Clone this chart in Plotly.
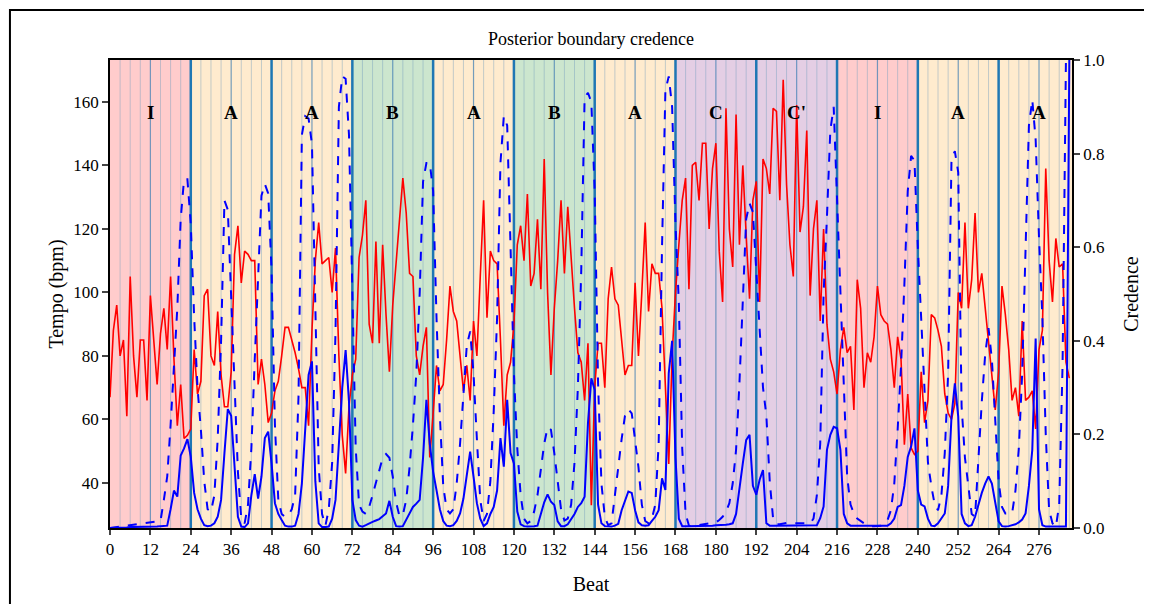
import plotly.graph_objects as go

# ---------------- data ----------------
beats = list(range(286))

tempo = [67, 88, 96, 80, 85, 61, 105, 80, 67, 85, 85, 66, 99, 85, 71, 87, 95, 82, 105, 79,
         58, 71, 54, 55, 57, 82, 68, 72, 99, 101, 80, 77, 94, 74, 64, 64, 75, 112, 121, 103,
         113, 112, 110, 110, 71, 79, 71, 59, 62, 69, 72, 80, 89, 89, 85, 81, 76, 70, 70, 58,
         88, 110, 122, 109, 110, 111, 100, 114, 80, 55, 43, 64, 74, 79, 111, 118, 129, 90, 84, 116,
         84, 115, 93, 75, 96, 110, 125, 136, 125, 106, 105, 80, 74, 83, 89, 48, 62, 77, 69, 71,
         85, 102, 94, 91, 80, 69, 77, 66, 91, 80, 105, 129, 92, 113, 110, 109, 85, 58, 74, 78,
         90, 115, 121, 110, 131, 102, 106, 123, 101, 142, 100, 74, 95, 110, 129, 106, 127, 110, 95, 81,
         78, 66, 84, 33, 70, 84, 84, 70, 98, 108, 98, 96, 85, 74, 77, 77, 103, 80, 100, 122,
         94, 109, 106, 106, 95, 71, 46, 80, 100, 115, 129, 136, 101, 140, 141, 129, 147, 147, 120, 139,
         147, 113, 97, 158, 120, 108, 156, 115, 140, 118, 98, 129, 135, 97, 142, 139, 131, 158, 157, 129,
         167, 134, 115, 105, 159, 119, 127, 151, 99, 120, 129, 91, 120, 90, 79, 75, 68, 82, 89, 81,
         83, 63, 104, 95, 70, 81, 78, 86, 102, 93, 91, 90, 82, 70, 86, 79, 52, 68, 51, 49,
         50, 75, 59, 66, 93, 92, 88, 83, 68, 62, 60, 65, 100, 95, 122, 95, 104, 125, 100, 106,
         95, 85, 74, 63, 75, 102, 93, 82, 66, 70, 61, 91, 66, 67, 69, 57, 82, 88, 139, 110,
         97, 117, 108, 109, 78, 73]

credence_dashed = [0.0, 0.001, 0.002, 0.003, 0.004, 0.005, 0.006, 0.007, 0.008, 0.009,
                   0.01, 0.011, 0.012, 0.012, 0.013, 0.015, 0.06, 0.11, 0.22, 0.36,
                   0.47, 0.66, 0.745, 0.745, 0.65, 0.45, 0.30, 0.21, 0.10, 0.04,
                   0.035, 0.07, 0.19, 0.40, 0.70, 0.68, 0.50, 0.29, 0.12, 0.02,
                   0.01, 0.05, 0.17, 0.36, 0.54, 0.71, 0.735, 0.715, 0.55, 0.22,
                   0.06, 0.03, 0.024, 0.027, 0.04, 0.07, 0.28, 0.84, 0.88, 0.875,
                   0.82, 0.44, 0.13, 0.03, 0.005, 0.04, 0.14, 0.42, 0.90, 0.965,
                   0.96, 0.84, 0.52, 0.17, 0.05, 0.035, 0.03, 0.045, 0.07, 0.095,
                   0.125, 0.15, 0.158, 0.15, 0.11, 0.055, 0.025, 0.028, 0.06, 0.13,
                   0.22, 0.33, 0.50, 0.74, 0.78, 0.78, 0.72, 0.45, 0.24, 0.09,
                   0.04, 0.031, 0.04, 0.095, 0.18, 0.29, 0.39, 0.42, 0.33, 0.19,
                   0.06, 0.015, 0.03, 0.10, 0.25, 0.45, 0.78, 0.88, 0.86, 0.60,
                   0.33, 0.17, 0.07, 0.02, 0.01, 0.015, 0.035, 0.07, 0.13, 0.18,
                   0.215, 0.21, 0.16, 0.10, 0.04, 0.016, 0.02, 0.05, 0.14, 0.30,
                   0.55, 0.92, 0.93, 0.91, 0.72, 0.31, 0.095, 0.024, 0.006, 0.01,
                   0.07, 0.14, 0.19, 0.24, 0.254, 0.245, 0.19, 0.13, 0.05, 0.015,
                   0.01, 0.02, 0.05, 0.18, 0.60, 0.935, 0.965, 0.90, 0.65, 0.48,
                   0.17, 0.03, 0.005, 0.004, 0.005, 0.006, 0.007, 0.008, 0.009, 0.01,
                   0.012, 0.017, 0.024, 0.035, 0.053, 0.095, 0.167, 0.31, 0.49, 0.66,
                   0.694, 0.675, 0.55, 0.43, 0.30, 0.24, 0.10, 0.02, 0.008, 0.008,
                   0.01, 0.011, 0.011, 0.01, 0.01, 0.01, 0.01, 0.01, 0.01, 0.02,
                   0.07, 0.18, 0.50, 0.665, 0.85, 0.90, 0.70, 0.47, 0.30, 0.11,
                   0.05, 0.031, 0.02, 0.014, 0.01, 0.006, 0.004, 0.004, 0.004, 0.005,
                   0.01, 0.017, 0.038, 0.095, 0.21, 0.345, 0.52, 0.72, 0.795, 0.785,
                   0.60, 0.45, 0.27, 0.14, 0.09, 0.05, 0.038, 0.07, 0.16, 0.33,
                   0.79, 0.805, 0.76, 0.26, 0.15, 0.085, 0.03, 0.024, 0.15, 0.27,
                   0.37, 0.427, 0.36, 0.23, 0.10, 0.045, 0.031, 0.031, 0.031, 0.08,
                   0.17, 0.33, 0.60, 0.86, 0.915, 0.83, 0.62, 0.45, 0.20, 0.038,
                   0.01, 0.002, 0.05, 0.35, 1.0, 1.0]

credence_solid = [0.0, 0.0, 0.001, 0.001, 0.001, 0.001, 0.002, 0.002, 0.002, 0.002,
                  0.002, 0.003, 0.003, 0.003, 0.003, 0.004, 0.004, 0.005, 0.04, 0.08,
                  0.067, 0.155, 0.17, 0.19, 0.152, 0.075, 0.04, 0.02, 0.006, 0.004,
                  0.005, 0.01, 0.024, 0.06, 0.16, 0.254, 0.24, 0.13, 0.024, 0.003,
                  0.002, 0.01, 0.07, 0.115, 0.063, 0.11, 0.192, 0.206, 0.138, 0.053,
                  0.03, 0.017, 0.005, 0.003, 0.003, 0.005, 0.03, 0.095, 0.216, 0.327,
                  0.356, 0.10, 0.01, 0.002, 0.002, 0.003, 0.02, 0.06, 0.18, 0.30,
                  0.38, 0.27, 0.06, 0.017, 0.005, 0.003, 0.006, 0.01, 0.013, 0.016,
                  0.019, 0.025, 0.031, 0.058, 0.024, 0.004, 0.003, 0.004, 0.017, 0.03,
                  0.045, 0.052, 0.06, 0.15, 0.274, 0.18, 0.12, 0.081, 0.04, 0.015,
                  0.005, 0.004, 0.006, 0.015, 0.031, 0.063, 0.11, 0.163, 0.11, 0.053,
                  0.02, 0.004, 0.01, 0.03, 0.045, 0.08, 0.192, 0.131, 0.274, 0.16,
                  0.138, 0.035, 0.008, 0.004, 0.003, 0.003, 0.004, 0.005, 0.03, 0.055,
                  0.072, 0.056, 0.049, 0.014, 0.004, 0.004, 0.008, 0.018, 0.03, 0.045,
                  0.053, 0.067, 0.224, 0.32, 0.295, 0.05, 0.01, 0.004, 0.003, 0.003,
                  0.005, 0.009, 0.038, 0.06, 0.078, 0.075, 0.038, 0.012, 0.006, 0.005,
                  0.006, 0.015, 0.024, 0.038, 0.106, 0.081, 0.331, 0.40, 0.15, 0.02,
                  0.004, 0.004, 0.004, 0.004, 0.004, 0.005, 0.005, 0.005, 0.005, 0.005,
                  0.006, 0.006, 0.006, 0.007, 0.008, 0.01, 0.03, 0.09, 0.138, 0.188,
                  0.199, 0.09, 0.071, 0.103, 0.124, 0.01, 0.005, 0.005, 0.005, 0.005,
                  0.005, 0.005, 0.005, 0.005, 0.005, 0.005, 0.005, 0.005, 0.005, 0.005,
                  0.006, 0.021, 0.046, 0.167, 0.199, 0.216, 0.213, 0.167, 0.03, 0.01,
                  0.005, 0.005, 0.005, 0.005, 0.005, 0.005, 0.005, 0.005, 0.005, 0.005,
                  0.005, 0.005, 0.01, 0.02, 0.045, 0.049, 0.09, 0.152, 0.174, 0.213,
                  0.08, 0.05, 0.046, 0.02, 0.005, 0.004, 0.01, 0.02, 0.031, 0.09,
                  0.238, 0.309, 0.238, 0.03, 0.01, 0.004, 0.006, 0.024, 0.05, 0.075,
                  0.095, 0.11, 0.095, 0.053, 0.014, 0.004, 0.003, 0.004, 0.006, 0.008,
                  0.012, 0.018, 0.031, 0.09, 0.167, 0.405, 0.04, 0.006, 0.003, 0.003,
                  0.003, 0.003, 0.003, 0.003, 0.003, 1.0]

section_labels = ["I", "A", "A", "B", "A", "B", "A", "C", "C'", "I", "A", "A"]
section_starts = [0, 24, 48, 72, 96, 120, 144, 168, 192, 216, 240, 264]
section_ends = [24, 48, 72, 96, 120, 144, 168, 192, 216, 240, 264, 286]
x_ticks = list(range(0, 277, 12))
tempo_ticks = [40, 60, 80, 100, 120, 140, 160]
cred_ticks = [0.0, 0.2, 0.4, 0.6, 0.8, 1.0]

# ---------------- styling ----------------
section_colors = {"I": "rgb(255,204,204)", "A": "rgb(255,235,206)", "B": "rgb(204,230,206)",
                  "C": "rgb(228,206,228)", "C'": "rgb(228,206,228)"}
FONT = "Liberation Serif, Times New Roman, serif"
X_MAX = 285.8

fig = go.Figure()

fig.add_trace(go.Scatter(x=beats, y=tempo, mode="lines", line=dict(color="red", width=1.6),
                         showlegend=False, yaxis="y"))
fig.add_trace(go.Scatter(x=beats, y=credence_dashed, mode="lines",
                         line=dict(color="blue", width=2, dash="dash"),
                         showlegend=False, yaxis="y2"))
fig.add_trace(go.Scatter(x=beats, y=credence_solid, mode="lines",
                         line=dict(color="blue", width=2),
                         showlegend=False, yaxis="y2"))

shapes = []
for lab, s, e in zip(section_labels, section_starts, section_ends):
    shapes.append(dict(type="rect", xref="x", yref="paper", x0=s, x1=min(e, X_MAX), y0=0, y1=1,
                       fillcolor=section_colors[lab], line=dict(width=0), layer="below"))
# beat lines every 3 beats
for b in range(3, 286, 3):
    if b % 24 == 0:
        continue
    if b % 12 == 0:
        col, w = "rgba(70,130,180,0.75)", 1.2
    else:
        col, w = "rgba(120,160,190,0.45)", 1
    shapes.append(dict(type="line", xref="x", yref="paper", x0=b, x1=b, y0=0, y1=1,
                       line=dict(color=col, width=w), layer="below"))
for s in section_starts[1:]:
    shapes.append(dict(type="line", xref="x", yref="paper", x0=s, x1=s, y0=0, y1=1,
                       line=dict(color="#1f77b4", width=2.5), layer="below"))
# outer frame
shapes.append(dict(type="rect", xref="paper", yref="paper", x0=-0.104, x1=1.2, y0=-0.3, y1=1.107,
                   line=dict(color="black", width=2), fillcolor="rgba(0,0,0,0)", layer="above"))

annotations = []
for lab, s, e in zip(section_labels, section_starts, section_ends):
    annotations.append(dict(x=s + 12, y=0.915, xref="x", yref="paper", text="<b>%s</b>" % lab,
                            showarrow=False, font=dict(family=FONT, size=19, color="black")))

fig.update_layout(
    width=1152, height=604,
    margin=dict(l=102, r=88, t=52, b=84),
    paper_bgcolor="white", plot_bgcolor="white",
    font=dict(family=FONT, size=17, color="black"),
    title=dict(text="Posterior boundary credence", x=0.5, xref="paper", y=0.95, yref="container",
               xanchor="center", yanchor="middle", font=dict(family=FONT, size=18)),
    shapes=shapes, annotations=annotations,
    xaxis=dict(range=[0, X_MAX], tickvals=x_ticks, ticks="outside", ticklen=5, tickwidth=1.5,
               showline=True, linecolor="black", linewidth=1.5, mirror=True, showgrid=False,
               zeroline=False, title=dict(text="Beat", standoff=19),
               tickfont=dict(family=FONT, size=17)),
    yaxis=dict(range=[25.8, 173.2], tickvals=tempo_ticks, ticks="outside", ticklen=6, tickwidth=1.5,
               showline=True, linecolor="black", linewidth=1.5, mirror=True, showgrid=False,
               zeroline=False, title=dict(text="Tempo (bpm)", standoff=4),
               tickfont=dict(family=FONT, size=17)),
    yaxis2=dict(range=[0, 1], tickvals=cred_ticks, tickformat=".1f", overlaying="y", side="right",
                ticks="outside", ticklen=6, tickwidth=1.5, showline=True, linecolor="black",
                linewidth=1.5, showgrid=False, zeroline=False,
                title=dict(text="Credence", standoff=20), tickfont=dict(family=FONT, size=17)),
)

fig.write_html("out.html")
